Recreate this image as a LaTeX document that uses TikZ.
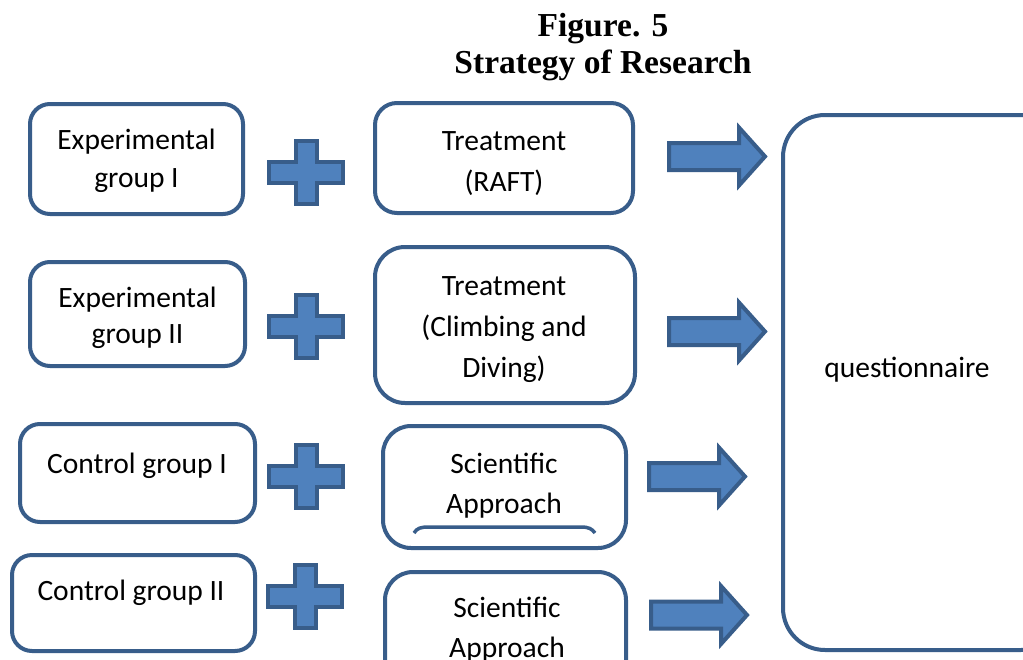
\documentclass[tikz,border=0pt]{standalone}
\usepackage{fontspec}
\setmainfont{Carlito}
\newfontfamily\titlefont{Liberation Serif}
\definecolor{edgeblue}{HTML}{385D8A}
\definecolor{fillblue}{HTML}{4F81BD}
\tikzset{
  box/.style={draw=edgeblue, line width=4pt, fill=white, rounded corners=#1, inner sep=0pt},
  box/.default=20pt,
  lbl/.style={font=\fontsize{29.5}{35}\selectfont, inner sep=0pt, anchor=base},
  ttl/.style={font=\titlefont\bfseries\fontsize{33.5}{38}\selectfont, inner sep=0pt, anchor=base},
  blockshape/.style={draw=edgeblue, fill=fillblue, line width=4pt, line join=miter},
  plusmark/.pic={
    \draw[blockshape] (-10.5,-31.5) -- (10.5,-31.5) -- (10.5,-10.5) -- (37,-10.5) -- (37,10.5)
      -- (10.5,10.5) -- (10.5,31.5) -- (-10.5,31.5) -- (-10.5,10.5) -- (-37,10.5)
      -- (-37,-10.5) -- (-10.5,-10.5) -- cycle;
  },
  blockarrow/.pic={
    \draw[blockshape] (2,-13.5) -- (72,-13.5) -- (72,-29) -- (98,0) -- (72,29)
      -- (72,13.5) -- (2,13.5) -- cycle;
  }
}
\begin{document}
\begin{tikzpicture}[x=1pt,y=-1pt]
\clip (0,0) rectangle (1023,659);
\fill[white] (0,0) rectangle (1023,659);

% title
\node[ttl] (title1) at (603,36) {Figure. 5};
\node[ttl] (title2) at (603,73) {Strategy of Research};

% left boxes
\node[box, minimum width=213, minimum height=110] (g1) at (136.5,159) {};
\node[box, minimum width=215, minimum height=104] (g2) at (137.5,314) {};
\node[box, minimum width=235, minimum height=98] (g3) at (137.5,473) {};
\node[box, minimum width=243, minimum height=96] (g4) at (133.5,603) {};

% treatment boxes
\node[box=22pt, minimum width=258, minimum height=110] (t1) at (504,158) {};
\node[box=30pt, minimum width=260, minimum height=156] (t2) at (505,325) {};
\node[box=28pt, minimum width=243, minimum height=122] (s1) at (504.5,487) {};
\node[box=28pt, minimum width=241, minimum height=126] (s2) at (505.5,635) {};

% questionnaire box
\node[box=42pt, minimum width=280, minimum height=535] (q) at (923,382.5) {};

% partial shape inside s1
\draw[edgeblue, line width=3.5pt] (414,533) .. controls (417,528) and (421,527) .. (429,527)
  -- (581,527) .. controls (589,527) and (592,529) .. (595,533);

% texts
\node[lbl] (g1a) at (136.5,149) {Experimental};
\node[lbl] (g1b) at (136.5,187) {group I};
\node[lbl] (g2a) at (137.5,307) {Experimental};
\node[lbl] (g2b) at (137.5,343) {group II};
\node[lbl] (g3a) at (137,473) {Control group I};
\node[lbl] (g4a) at (131,600) {Control group II};

\node[lbl] (t1a) at (504,150) {Treatment};
\node[lbl] (t1b) at (504,191) {(RAFT)};
\node[lbl] (t2a) at (504,295) {Treatment};
\node[lbl] (t2b) at (504,336) {(Climbing and};
\node[lbl] (t2c) at (504,377) {Diving)};
\node[lbl] (s1a) at (504,473) {Scientific};
\node[lbl] (s1b) at (504,513) {Approach};
\node[lbl] (s2a) at (507,617) {Scientific};
\node[lbl] (s2b) at (507,657) {Approach};

\node[lbl] (qa) at (907,377) {questionnaire};

% plus signs
\pic at (306,172.5) {plusmark};
\pic at (306,326.5) {plusmark};
\pic at (306,476.5) {plusmark};
\pic at (305,596.5) {plusmark};

% block arrows
\pic at (667,156.5) {blockarrow};
\pic at (667,331.5) {blockarrow};
\pic at (647,476.5) {blockarrow};
\pic at (649,615) {blockarrow};
\end{tikzpicture}
\end{document}
